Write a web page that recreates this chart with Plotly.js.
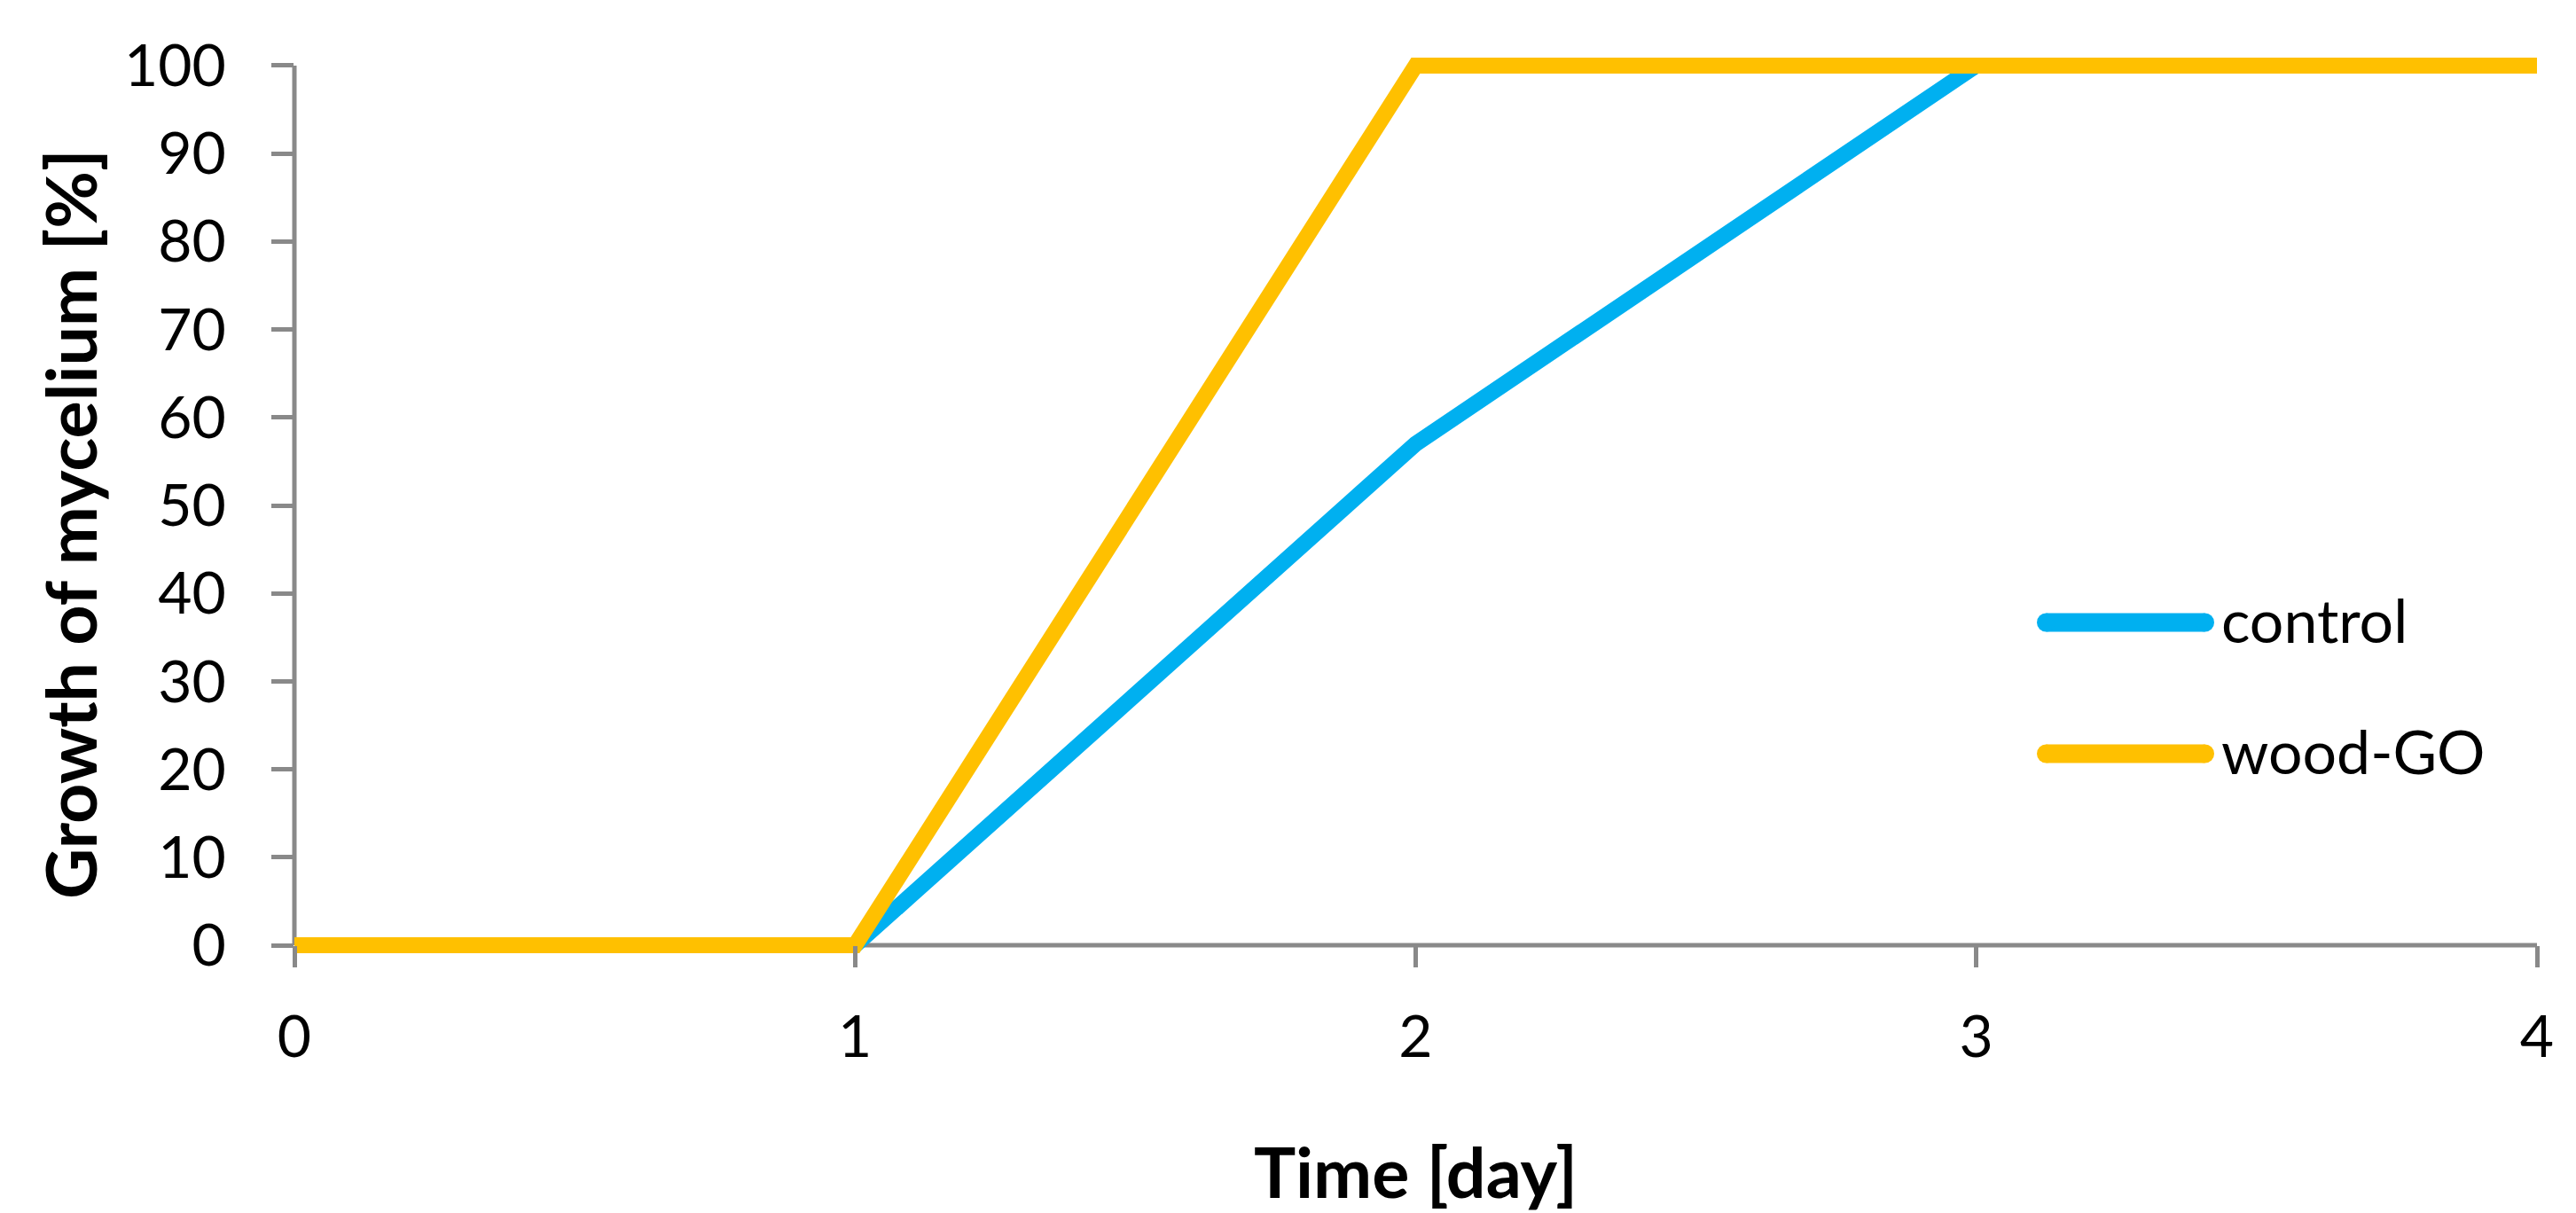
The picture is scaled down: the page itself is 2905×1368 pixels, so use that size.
<!DOCTYPE html>
<html>
<head>
<meta charset="utf-8">
<script src="https://cdn.plot.ly/plotly-3.0.1.min.js"></script>
<style>html,body{margin:0;padding:0;background:#fff;}#chart{width:2905px;height:1368px;}</style>
</head>
<body>
<div id="chart"></div>
<script>
// ---- data ----
const days = [0, 1, 2, 3, 4];
const controlGrowth = [0, 0, 57, 100, 100];
const woodGOGrowth = [0, 0, 100, 100, 100];
const seriesNames = ['control', 'wood-GO'];
const seriesColors = ['#00B0F0', '#FFC000'];
const xTickVals = [0, 1, 2, 3, 4];
const yTickVals = [0, 10, 20, 30, 40, 50, 60, 70, 80, 90, 100];
const xTitle = 'Time [day]';
const yTitle = 'Growth of mycelium [%]';

// ---- layout geometry ----
const W = 2905, H = 1368;
const M = {l: 332, r: 44, t: 59, b: 287};
const PW = W - M.l - M.r, PH = H - M.t - M.b;
const px = x => (x - M.l) / PW;
const py = y => (H - M.b - y) / PH;
const yRange = [-1.5, 101.5];
const axisGray = '#898989';
const FONT = 'Lato, "Open Sans", sans-serif';

const traces = [
  {x: days, y: controlGrowth, name: seriesNames[0], type: 'scatter', mode: 'lines',
   line: {color: seriesColors[0], width: 18}, showlegend: false},
  {x: days, y: woodGOGrowth, name: seriesNames[1], type: 'scatter', mode: 'lines',
   line: {color: seriesColors[1], width: 18}, showlegend: false}
];

const legendY = [702, 850];
const shapes = [
  {type: 'line', layer: 'below', xref: 'paper', yref: 'y', x0: 0, x1: 0, y0: 0, y1: 100,
   line: {color: axisGray, width: 5}},
  {type: 'line', layer: 'below', xref: 'x', yref: 'y', x0: 0, x1: 4, y0: 0, y1: 0,
   line: {color: axisGray, width: 5}}
];
const annotations = [
  {text: '<b>' + xTitle + '</b>', xref: 'paper', yref: 'paper', x: 0.5, y: py(1320),
   xanchor: 'center', yanchor: 'middle', showarrow: false,
   font: {family: FONT, size: 79, color: '#000'}},
  {text: '<b>' + yTitle + '</b>', xref: 'paper', yref: 'paper', x: px(78), y: py(591),
   xanchor: 'center', yanchor: 'middle', showarrow: false, textangle: -90,
   font: {family: FONT, size: 79, color: '#000'}}
];
const capR = 10.5;
seriesNames.forEach((n, i) => {
  const yc = legendY[i];
  shapes.push({type: 'line', xref: 'paper', yref: 'paper',
    x0: px(2297 + capR), x1: px(2497 - capR), y0: py(yc), y1: py(yc),
    line: {color: seriesColors[i], width: 2 * capR}});
  [2297 + capR, 2497 - capR].forEach(cx => {
    shapes.push({type: 'circle', xref: 'paper', yref: 'paper',
      x0: px(cx - capR), x1: px(cx + capR), y0: py(yc + capR), y1: py(yc - capR),
      fillcolor: seriesColors[i], line: {width: 0}});
  });
  annotations.push({text: n, xref: 'paper', yref: 'paper', x: px(2503), y: py(yc - 4),
    xanchor: 'left', yanchor: 'middle', showarrow: false,
    font: {family: FONT, size: 68, color: '#000'}});
});

const layout = {
  width: W, height: H,
  margin: M,
  paper_bgcolor: '#fff', plot_bgcolor: '#fff',
  showlegend: false,
  font: {family: FONT, color: '#000'},
  xaxis: {
    range: [0, 4], tickvals: xTickVals, ticktext: xTickVals.map(String),
    anchor: 'free', position: (0 - yRange[0]) / (yRange[1] - yRange[0]),
    showline: false, showgrid: false, zeroline: false,
    ticks: 'outside', ticklen: 24, tickwidth: 5, tickcolor: axisGray,
    ticklabelstandoff: 22,
    tickfont: {family: FONT, size: 66, color: '#000'}
  },
  yaxis: {
    range: yRange, tickvals: yTickVals, ticktext: yTickVals.map(String),
    showline: false, showgrid: false, zeroline: false,
    ticks: 'outside', ticklen: 25, tickwidth: 5, tickcolor: axisGray,
    ticklabelstandoff: 38,
    tickfont: {family: FONT, size: 66, color: '#000'}
  },
  shapes: shapes,
  annotations: annotations
};

Plotly.newPlot('chart', traces, layout, {displayModeBar: false, staticPlot: true});
</script>
</body>
</html>
